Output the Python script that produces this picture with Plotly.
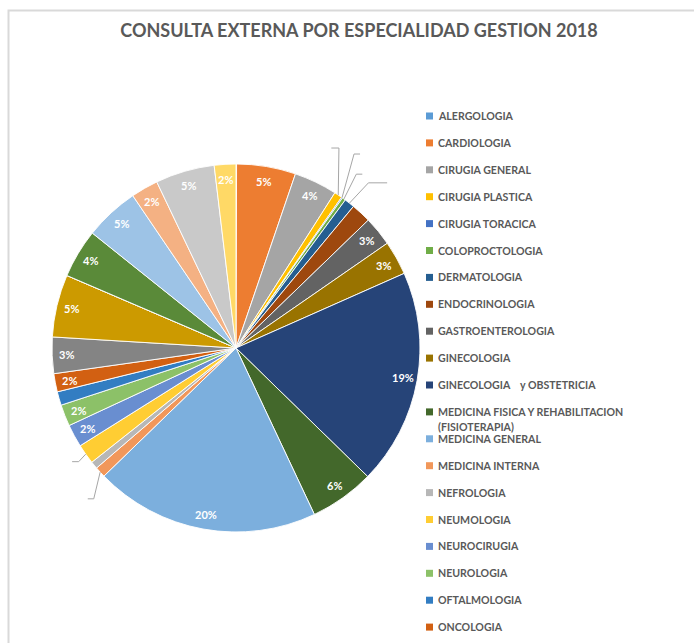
import math
import plotly.graph_objects as go

# ---------------- data ----------------
categories = [
    "ALERGOLOGIA", "CARDIOLOGIA", "CIRUGIA GENERAL", "CIRUGIA PLASTICA", "CIRUGIA TORACICA",
    "COLOPROCTOLOGIA", "DERMATOLOGIA", "ENDOCRINOLOGIA", "GASTROENTEROLOGIA", "GINECOLOGIA",
    "GINECOLOGIA\u00a0\u00a0\u00a0 y OBSTETRICIA", "MEDICINA FISICA Y REHABILITACION (FISIOTERAPIA)",
    "MEDICINA GENERAL", "MEDICINA INTERNA", "NEFROLOGIA", "NEUMOLOGIA", "NEUROCIRUGIA",
    "NEUROLOGIA", "OFTALMOLOGIA", "ONCOLOGIA", "ORTOPEDIA", "OTORRINOLARINGOLOGIA",
    "PEDIATRIA", "PSICOLOGIA", "PSIQUIATRIA", "REUMATOLOGIA", "TRAUMATOLOGIA", "UROLOGIA",
]
values = [
    0.05, 5.2, 3.8, 0.7, 0.1,
    0.3, 0.9, 1.75, 2.6, 3.0,
    19.0, 5.7,
    19.8, 0.95, 0.65, 1.75, 2.0,
    1.9, 1.2, 1.6, 3.2, 5.5,
    0.0, 4.3, 4.8, 2.4, 5.2, 1.9,
]
colors = [
    "#5B9BD5", "#ED7D31", "#A5A5A5", "#FFC000", "#4472C4",
    "#70AD47", "#255E91", "#9E480E", "#636363", "#997300",
    "#264478", "#43682B",
    "#7CAFDD", "#F1975A", "#B7B7B7", "#FFCD33", "#698ED0",
    "#8CC168", "#327DC2", "#D26012", "#848484", "#CC9A00",
    "#335AA1", "#5A8A39", "#9DC3E6", "#F4B183", "#C9C9C9", "#FFD966",
]
# slices whose percentage label is visible in the original
labelled = [
    "CARDIOLOGIA", "CIRUGIA GENERAL", "GASTROENTEROLOGIA", "GINECOLOGIA",
    "GINECOLOGIA\u00a0\u00a0\u00a0 y OBSTETRICIA", "MEDICINA FISICA Y REHABILITACION (FISIOTERAPIA)",
    "MEDICINA GENERAL", "NEUROCIRUGIA", "NEUROLOGIA", "ONCOLOGIA", "ORTOPEDIA",
    "OTORRINOLARINGOLOGIA", "PSICOLOGIA", "PSIQUIATRIA", "REUMATOLOGIA", "TRAUMATOLOGIA", "UROLOGIA",
]
legend_visible = 20  # the original legend is cut after ONCOLOGIA
TITLE = "CONSULTA EXTERNA POR ESPECIALIDAD GESTION 2018"

# ---------------- layout constants (pixels) ----------------
W, H = 694, 643
CX, CY, R = 236, 348, 184
FONT = "Lato"
TEXT_GRAY = "#595959"
# leader lines for label-less thin slices: (elbow dx, elbow dy, tail length)
LEADERS = {
    "CIRUGIA PLASTICA": (0.7, -47, -7.6),
    "CIRUGIA TORACICA": (12, -43.6, 6),
    "COLOPROCTOLOGIA": (12.4, -24.8, 6),
    "DERMATOLOGIA": (19, -20.3, 18.7),
    "NEUMOLOGIA": (-7, 7.5, -6.6),
    "MEDICINA INTERNA": (-6.4, 26.7, -6),
}


def px(x):
    return x / W


def py(y):
    return 1 - y / H


def polar(theta_deg, r):
    t = math.radians(theta_deg)
    return CX + r * math.sin(t), CY - r * math.cos(t)


fig = go.Figure(
    go.Pie(
        labels=categories,
        values=values,
        sort=False,
        direction="clockwise",
        rotation=0,
        marker=dict(colors=colors, line=dict(color="rgba(255,255,255,0.9)", width=1)),
        textinfo="none",
        hoverinfo="label+percent",
        showlegend=False,
        domain=dict(x=[px(CX - R), px(CX + R)], y=[py(CY + R), py(CY - R)]),
    )
)

total = sum(values)
annotations = []
shapes = []
cum = 0.0
for cat, v in zip(categories, values):
    start = cum / total * 360
    cum += v
    end = cum / total * 360
    mid = (start + end) / 2
    if cat in labelled:
        lx, ly = polar(mid, R * 0.92)
        annotations.append(dict(
            x=px(lx), y=py(ly), xref="paper", yref="paper", showarrow=False,
            text=f"<b>{round(100 * v / total)}%</b>",
            font=dict(family=FONT, size=11, color="white"),
            xanchor="center", yanchor="middle",
        ))
    if cat in LEADERS:
        dx, dy, tail = LEADERS[cat]
        sx, sy = polar(mid, R)
        ex, ey = sx + dx, sy + dy
        shapes.append(dict(type="path", xref="paper", yref="paper",
                           path=f"M {px(sx)} {py(sy)} L {px(ex)} {py(ey)} L {px(ex + tail)} {py(ey)}",
                           line=dict(color="#A6A6A6", width=1)))

# legend (cut like the original)
LEG_X, LEG_Y0, LEG_DY, SQ = 426, 116, 26.9, 7
for i in range(legend_visible):
    name = categories[i]
    yc = LEG_Y0 + LEG_DY * i
    shapes.append(dict(type="rect", xref="paper", yref="paper",
                       x0=px(LEG_X), x1=px(LEG_X + SQ), y0=py(yc - SQ / 2), y1=py(yc + SQ / 2),
                       fillcolor=colors[i], line=dict(width=0)))
    lines = [name]
    if len(name) > 34:
        cut = name.rfind(" ", 0, 34)
        lines = [name[:cut], name[cut + 1:]]
    for k, line in enumerate(lines):
        annotations.append(dict(
            x=px(LEG_X + 10), y=py(yc + 15.5 * k), xref="paper", yref="paper", showarrow=False,
            text=f"<b>{line}</b>", font=dict(family=FONT, size=10.6, color=TEXT_GRAY),
            xanchor="left", yanchor="middle",
        ))

# chart border (top-left corner visible)
shapes.append(dict(type="rect", xref="paper", yref="paper",
                   x0=px(8.5), x1=px(720), y0=py(670), y1=py(10.5),
                   line=dict(color="#D9D9D9", width=2), fillcolor="rgba(0,0,0,0)", layer="below"))

fig.update_layout(
    width=W, height=H,
    margin=dict(l=0, r=0, t=0, b=0),
    paper_bgcolor="white",
    showlegend=False,
    title=dict(text=f"<b>{TITLE}</b>", x=px(359), y=py(31), xanchor="center", yanchor="middle",
               font=dict(family=FONT, size=18, color=TEXT_GRAY)),
    annotations=annotations,
    shapes=shapes,
)

fig.write_html("out.html", config={"displayModeBar": False},
               post_script="document.body.style.margin='0';document.body.style.overflow='hidden';")
